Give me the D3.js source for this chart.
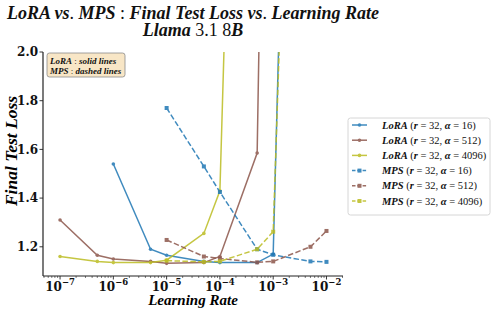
<!DOCTYPE html>
<html>
<head>
<meta charset="utf-8">
<script src="https://cdn.jsdelivr.net/npm/d3@7"></script>
<style>
  body { margin: 0; background: #fff; }
  svg { display: block; }
</style>
</head>
<body>
<svg id="chart"></svg>
<script>
const width = 498;
const height = 314;

// learning rates and final test losses
const lrLoRA16 = [1e-6, 5e-6, 1e-5, 5e-5, 1e-4, 5e-4, 1e-3, 5e-3];
const lossLoRA16 = [1.54, 1.19, 1.165, 1.14, 1.135, 1.135, 1.17, 7.0];
const lrLoRA512 = [1e-7, 5e-7, 1e-6, 5e-6, 1e-5, 5e-5, 1e-4, 5e-4, 1e-3];
const lossLoRA512 = [1.31, 1.165, 1.15, 1.14, 1.132, 1.135, 1.16, 1.585, 5.5];
const lrLoRA4096 = [1e-7, 5e-7, 1e-6, 5e-6, 1e-5, 5e-5, 1e-4, 5e-4];
const lossLoRA4096 = [1.16, 1.14, 1.135, 1.135, 1.145, 1.255, 1.43, 6.7];
const lrMPS16 = [1e-5, 5e-5, 1e-4, 5e-4, 1e-3, 5e-3, 1e-2];
const lossMPS16 = [1.77, 1.53, 1.425, 1.19, 1.167, 1.14, 1.138];
const lrMPS512 = [1e-5, 5e-5, 1e-4, 5e-4, 1e-3, 5e-3, 1e-2];
const lossMPS512 = [1.228, 1.16, 1.152, 1.136, 1.14, 1.2, 1.265];
const lrMPS4096 = [1e-5, 5e-5, 1e-4, 5e-4, 1e-3, 5e-3];
const lossMPS4096 = [1.143, 1.138, 1.14, 1.19, 1.262, 5.9];

const xTicks = [1e-7, 1e-6, 1e-5, 1e-4, 1e-3, 1e-2];
const yTicks = [1.2, 1.4, 1.6, 1.8, 2.0];

const series = [
  { method: "LoRA", alpha: "16", color: "#1f77b4", dashed: false, lr: lrLoRA16, loss: lossLoRA16 },
  { method: "LoRA", alpha: "512", color: "#8c564b", dashed: false, lr: lrLoRA512, loss: lossLoRA512 },
  { method: "LoRA", alpha: "4096", color: "#bcbd22", dashed: false, lr: lrLoRA4096, loss: lossLoRA4096 },
  { method: "MPS", alpha: "16", color: "#1f77b4", dashed: true, lr: lrMPS16, loss: lossMPS16 },
  { method: "MPS", alpha: "512", color: "#8c564b", dashed: true, lr: lrMPS512, loss: lossMPS512 },
  { method: "MPS", alpha: "4096", color: "#bcbd22", dashed: true, lr: lrMPS4096, loss: lossMPS4096 }
];

const serif = '"Liberation Serif", "Times New Roman", serif';
const tickFont = '"DejaVu Serif", serif';

const plot = { left: 43, right: 343, top: 52, bottom: 276 };

const svg = d3.select("#chart")
  .attr("width", width)
  .attr("height", height)
  .attr("viewBox", `0 0 ${width} ${height}`);

svg.append("rect").attr("width", width).attr("height", height).attr("fill", "#fff");

const x = d3.scaleLog()
  .domain([Math.pow(10, -7.32), Math.pow(10, -1.69)])
  .range([plot.left, plot.right]);

const y = d3.scaleLinear()
  .domain([1.08, 2.0])
  .range([plot.bottom, plot.top]);

// clip marks to the axes area
svg.append("clipPath").attr("id", "clip")
  .append("rect")
  .attr("x", plot.left).attr("y", plot.top)
  .attr("width", plot.right - plot.left).attr("height", plot.bottom - plot.top);

const marks = svg.append("g").attr("clip-path", "url(#clip)");

const line = d3.line().x(d => x(d[0])).y(d => y(d[1]));

series.forEach(s => {
  const pts = s.lr.map((v, i) => [v, s.loss[i]]);
  const g = marks.append("g").attr("opacity", 0.85);
  g.append("path")
    .attr("d", line(pts))
    .attr("fill", "none")
    .attr("stroke", s.color)
    .attr("stroke-width", 1.5)
    .attr("stroke-dasharray", s.dashed ? "5.5,2.4" : null);
  if (s.dashed) {
    g.selectAll("rect").data(pts).join("rect")
      .attr("x", d => x(d[0]) - 2).attr("y", d => y(d[1]) - 2)
      .attr("width", 4).attr("height", 4)
      .attr("fill", s.color);
  } else {
    g.selectAll("circle").data(pts).join("circle")
      .attr("cx", d => x(d[0])).attr("cy", d => y(d[1]))
      .attr("r", 1.8)
      .attr("fill", s.color);
  }
});

// x axis with log minor ticks
const xAxis = svg.append("g").attr("transform", `translate(0,${plot.bottom})`);
xAxis.append("line")
  .attr("x1", plot.left).attr("x2", plot.right)
  .attr("stroke", "#222").attr("stroke-width", 1.2);

const minor = [];
for (let e = -8; e <= -2; e++) {
  for (let m = 2; m <= 9; m++) {
    const v = m * Math.pow(10, e);
    if (v >= x.domain()[0] && v <= x.domain()[1]) minor.push(v);
  }
}
xAxis.selectAll(".minor").data(minor).join("line")
  .attr("class", "minor")
  .attr("x1", d => x(d)).attr("x2", d => x(d))
  .attr("y1", 0).attr("y2", 2)
  .attr("stroke", "#222").attr("stroke-width", 0.6);

xAxis.selectAll(".major").data(xTicks).join("line")
  .attr("class", "major")
  .attr("x1", d => x(d)).attr("x2", d => x(d))
  .attr("y1", 0).attr("y2", 3.5)
  .attr("stroke", "#222").attr("stroke-width", 0.9);

const xLabels = xAxis.selectAll(".xl").data(xTicks).join("text")
  .attr("class", "xl")
  .attr("x", d => x(d))
  .attr("y", 14.5)
  .attr("text-anchor", "middle")
  .style("font-family", tickFont)
  .attr("font-weight", "bold")
  .attr("font-size", 12)
  .attr("fill", "#111");
xLabels.append("tspan").text("10");
xLabels.append("tspan")
  .attr("dy", -6)
  .attr("font-size", 8.5)
  .text(d => "\u2212" + Math.round(-Math.log10(d)));

// y axis
const yAxis = svg.append("g").attr("transform", `translate(${plot.left},0)`);
yAxis.append("line")
  .attr("y1", plot.top).attr("y2", plot.bottom)
  .attr("stroke", "#222").attr("stroke-width", 1.2);
yAxis.selectAll(".ytick").data(yTicks).join("line")
  .attr("class", "ytick")
  .attr("x1", 0).attr("x2", -3.5)
  .attr("y1", d => y(d)).attr("y2", d => y(d))
  .attr("stroke", "#222").attr("stroke-width", 0.9);
yAxis.selectAll(".yl").data(yTicks).join("text")
  .attr("class", "yl")
  .attr("x", -5)
  .attr("y", d => y(d))
  .attr("dy", "0.36em")
  .attr("text-anchor", "end")
  .style("font-family", tickFont)
  .attr("font-weight", "bold")
  .attr("font-size", 12)
  .attr("fill", "#111")
  .text(d => d.toFixed(1));

// axis labels
svg.append("text")
  .attr("x", (plot.left + plot.right) / 2)
  .attr("y", 305)
  .attr("text-anchor", "middle")
  .style("font-family", serif)
  .attr("font-weight", "bold")
  .attr("font-style", "italic")
  .attr("font-size", 15)
  .text("Learning Rate");

svg.append("text")
  .attr("transform", "translate(17,151) rotate(-90)")
  .attr("text-anchor", "middle")
  .style("font-family", serif)
  .attr("font-weight", "bold")
  .attr("font-style", "italic")
  .attr("font-size", 17.5)
  .text("Final Test Loss");

// title, mixed math styles
function richText(sel, parts) {
  parts.forEach(p => {
    sel.append("tspan")
      .attr("font-style", p.up ? "normal" : "italic")
      .attr("font-weight", p.light ? "normal" : "bold")
      .text(p.t);
  });
}
const title1 = svg.append("text")
  .attr("x", 193).attr("y", 19)
  .attr("text-anchor", "middle")
  .style("font-family", serif)
  .attr("font-size", 18)
  .attr("fill", "#111");
richText(title1, [
  { t: "LoRA vs" }, { t: ". ", up: true, light: true }, { t: "MPS" },
  { t: " : ", up: true, light: true }, { t: "Final Test Loss vs" },
  { t: ". ", up: true, light: true }, { t: "Learning Rate" }
]);
const title2 = svg.append("text")
  .attr("x", 193).attr("y", 36)
  .attr("text-anchor", "middle")
  .style("font-family", serif)
  .attr("font-size", 18)
  .attr("fill", "#111");
richText(title2, [
  { t: "Llama " }, { t: "3.1 8", up: true, light: true }, { t: "B" }
]);

// note box
const note = svg.append("g");
note.append("rect")
  .attr("x", 47).attr("y", 53).attr("width", 78).attr("height", 24)
  .attr("rx", 2.5)
  .attr("fill", "#f5deb3").attr("fill-opacity", 0.75)
  .attr("stroke", "#8a8a8a").attr("stroke-width", 0.8);
[["LoRA", "solid lines", 64], ["MPS", "dashed lines", 74]].forEach(r => {
  const t = note.append("text")
    .attr("x", 50).attr("y", r[2])
    .style("font-family", serif)
    .attr("font-size", 9)
    .attr("fill", "#111");
  richText(t, [{ t: r[0] }, { t: " : ", up: true, light: true }, { t: r[1] }]);
});

// legend
const legend = svg.append("g");
legend.append("rect")
  .attr("x", 348).attr("y", 118).attr("width", 142).attr("height", 97)
  .attr("rx", 2.5)
  .attr("fill", "#fff")
  .attr("stroke", "#cccccc").attr("stroke-width", 0.8);

series.forEach((s, i) => {
  const ry = 125 + i * 15.2;
  const g = legend.append("g").attr("opacity", 0.85);
  g.append("line")
    .attr("x1", 352).attr("x2", 367).attr("y1", ry).attr("y2", ry)
    .attr("stroke", s.color).attr("stroke-width", 1.5)
    .attr("stroke-dasharray", s.dashed ? "3.5,1.8" : null);
  if (s.dashed) {
    g.append("rect").attr("x", 357.5).attr("y", ry - 2).attr("width", 4).attr("height", 4).attr("fill", s.color);
  } else {
    g.append("circle").attr("cx", 359.5).attr("cy", ry).attr("r", 1.8).attr("fill", s.color);
  }
  const t = legend.append("text")
    .attr("x", 382).attr("y", ry + 3.5)
    .style("font-family", serif)
    .attr("font-size", 10.5)
    .attr("fill", "#111");
  richText(t, [
    { t: s.method }, { t: " (", up: true, light: true }, { t: "r" },
    { t: " = 32, ", up: true, light: true }, { t: "\u03b1" },
    { t: " = " + s.alpha + ")", up: true, light: true }
  ]);
});
</script>
</body>
</html>
